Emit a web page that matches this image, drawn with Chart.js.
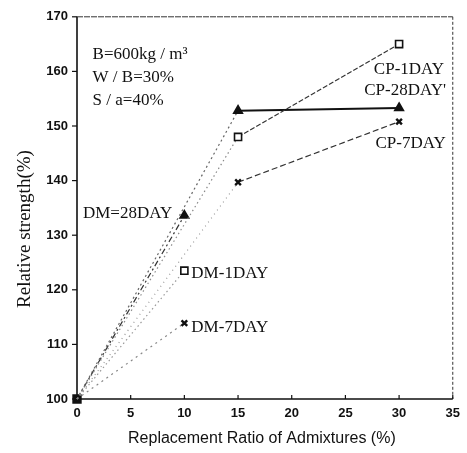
<!DOCTYPE html>
<html>
<head>
<meta charset="utf-8">
<script src="https://cdn.jsdelivr.net/npm/chart.js@4.4.1/dist/chart.umd.min.js"></script>
<style>
    html, body { margin: 0; padding: 0; background: #fff; }
    #wrap { width: 467px; height: 453px; }
</style>
</head>
<body>
<div id="wrap"><canvas id="grafico" width="467" height="453"></canvas></div>
<script>
// eixos
const xTicks = [0, 5, 10, 15, 20, 25, 30, 35];
const yTicks = [100, 110, 120, 130, 140, 150, 160, 170];

// teor de substituicao (%)
const cpRatio = [0, 15, 30];
const dmRatio = [0, 10];

// resistencia relativa (%)
const cp1Day = [100, 148, 165];
const cp28Day = [100, 152.8, 153.3];
const cp7Day = [100, 139.7, 150.8];
const dm28Day = [100, 133.6];
const dm1Day = [100, 123.5];
const dm7Day = [100, 113.9];

// textos dentro do grafico (posicao em unidades dos eixos)
const notas = [
    { t: 'B=600kg / m\u00b3', x: 1.45, y: 163.1 },
    { t: 'W / B=30%', x: 1.45, y: 158.9 },
    { t: 'S / a=40%', x: 1.45, y: 154.7 },
    { t: 'CP-1DAY', x: 27.65, y: 160.3 },
    { t: "CP-28DAY'", x: 26.75, y: 156.5 },
    { t: 'CP-7DAY', x: 27.8, y: 146.8 },
    { t: 'DM=28DAY', x: 0.55, y: 133.9 },
    { t: 'DM-1DAY', x: 10.65, y: 123.0 },
    { t: 'DM-7DAY', x: 10.65, y: 113.1 }
];

function pontos(xs, ys) {
    return xs.map((x, i) => ({ x: x, y: ys[i] }));
}

function serie(label, xs, ys, estilo, tracoIni, tracoFim, corIni, corFim, larguraFim) {
    return {
        label: label,
        data: pontos(xs, ys),
        showLine: true,
        clip: false,
        borderColor: '#222',
        borderWidth: 1.2,
        segment: {
            borderDash: ctx => ctx.p0DataIndex === 0 ? tracoIni : tracoFim,
            borderColor: ctx => ctx.p0DataIndex === 0 ? corIni : corFim,
            borderWidth: ctx => ctx.p0DataIndex === 0 ? 1.2 : larguraFim
        },
        pointStyle: estilo,
        pointRadius: ctx => ctx.dataIndex === 0 ? 0 : (estilo === 'crossRot' ? 4 : 5),
        pointBackgroundColor: estilo === 'rect' ? '#fff' : '#111',
        pointBorderColor: '#111',
        pointBorderWidth: estilo === 'crossRot' ? 2.4 : 1.6
    };
}

const datasets = [
    serie('CP-1DAY', cpRatio, cp1Day, 'rect', [1.5, 3], [5, 2], '#8a8a8a', '#333', 1.2),
    serie('CP-28DAY', cpRatio, cp28Day, 'triangle', [2, 3], [], '#666', '#111', 2),
    serie('CP-7DAY', cpRatio, cp7Day, 'crossRot', [1, 4], [6, 3], '#999', '#333', 1.2),
    serie('DM-1DAY', dmRatio, dm1Day, 'rect', [1.5, 3], [], '#999', '#999', 1),
    serie('DM-7DAY', dmRatio, dm7Day, 'crossRot', [2, 4], [], '#888', '#888', 1),
    serie('DM-28DAY', dmRatio, dm28Day, 'triangle', [6, 3, 2, 3], [], '#333', '#333', 1.2)
];

// ponto de origem comum, marcado cheio
const ultimo = datasets[datasets.length - 1];
ultimo.pointStyle = ctx => ctx.dataIndex === 0 ? 'rect' : 'triangle';
ultimo.pointRadius = ctx => ctx.dataIndex === 0 ? 5.5 : 5;

const moldura = {
    id: 'moldura',
    beforeDatasetsDraw(chart) {
        const { ctx, chartArea: a, scales } = chart;
        const sx = scales.x, sy = scales.y;
        ctx.save();

        // eixos esquerdo e inferior
        ctx.strokeStyle = '#111';
        ctx.lineWidth = 1.6;
        ctx.beginPath();
        ctx.moveTo(a.left, a.top);
        ctx.lineTo(a.left, a.bottom);
        ctx.lineTo(a.right, a.bottom);
        ctx.stroke();

        // borda superior e direita
        ctx.strokeStyle = '#333';
        ctx.lineWidth = 1;
        ctx.setLineDash([6, 1]);
        ctx.beginPath();
        ctx.moveTo(a.left, a.top);
        ctx.lineTo(a.right, a.top);
        ctx.stroke();
        ctx.setLineDash([3, 2]);
        ctx.beginPath();
        ctx.moveTo(a.right, a.top);
        ctx.lineTo(a.right, a.bottom);
        ctx.stroke();
        ctx.setLineDash([]);

        // marcas dos eixos
        ctx.strokeStyle = '#111';
        ctx.lineWidth = 1.2;
        yTicks.forEach(v => {
            const py = sy.getPixelForValue(v);
            ctx.beginPath();
            ctx.moveTo(a.left - 5, py);
            ctx.lineTo(a.left, py);
            ctx.stroke();
        });
        xTicks.forEach(v => {
            const px = sx.getPixelForValue(v);
            ctx.beginPath();
            ctx.moveTo(px, a.bottom);
            ctx.lineTo(px, a.bottom - 4);
            ctx.stroke();
        });
        ctx.restore();
    },
    afterDatasetsDraw(chart) {
        const { ctx, chartArea: a, scales } = chart;
        const sx = scales.x, sy = scales.y;
        ctx.save();

        // anotacoes
        ctx.fillStyle = '#111';
        ctx.font = '17px "Liberation Serif"';
        ctx.textAlign = 'left';
        ctx.textBaseline = 'middle';
        notas.forEach(n => {
            ctx.fillText(n.t, sx.getPixelForValue(n.x), sy.getPixelForValue(n.y));
        });

        // titulos dos eixos
        ctx.textAlign = 'center';
        ctx.font = '16px "Liberation Sans"';
        ctx.fillText('Replacement Ratio of Admixtures (%)', (a.left + a.right) / 2 - 3, 439);

        ctx.translate(25, 229);
        ctx.rotate(-Math.PI / 2);
        ctx.font = '19px "Liberation Serif"';
        ctx.fillText('Relative strength(%)', 0, 0);
        ctx.restore();
    }
};

new Chart(document.getElementById('grafico'), {
    type: 'scatter',
    data: { datasets: datasets },
    options: {
        responsive: false,
        animation: false,
        layout: {
            padding: { top: 15, right: 9, left: 0, bottom: 0 }
        },
        plugins: {
            legend: { display: false },
            tooltip: { enabled: false }
        },
        scales: {
            x: {
                type: 'linear',
                min: 0,
                max: 35,
                afterBuildTicks: s => { s.ticks = xTicks.map(v => ({ value: v })); },
                afterFit: s => { s.height = 54; },
                grid: { display: false, drawTicks: false },
                border: { display: false },
                ticks: {
                    padding: 7,
                    color: '#111',
                    font: { family: 'Liberation Sans', size: 13, weight: 'bold' }
                }
            },
            y: {
                min: 100,
                max: 170,
                afterBuildTicks: s => { s.ticks = yTicks.map(v => ({ value: v })); },
                afterFit: s => { s.width = 77; },
                grid: { display: false, drawTicks: false },
                border: { display: false },
                ticks: {
                    padding: 9,
                    color: '#111',
                    font: { family: 'Liberation Sans', size: 13, weight: 'bold' }
                }
            }
        }
    },
    plugins: [moldura]
});
</script>
</body>
</html>
